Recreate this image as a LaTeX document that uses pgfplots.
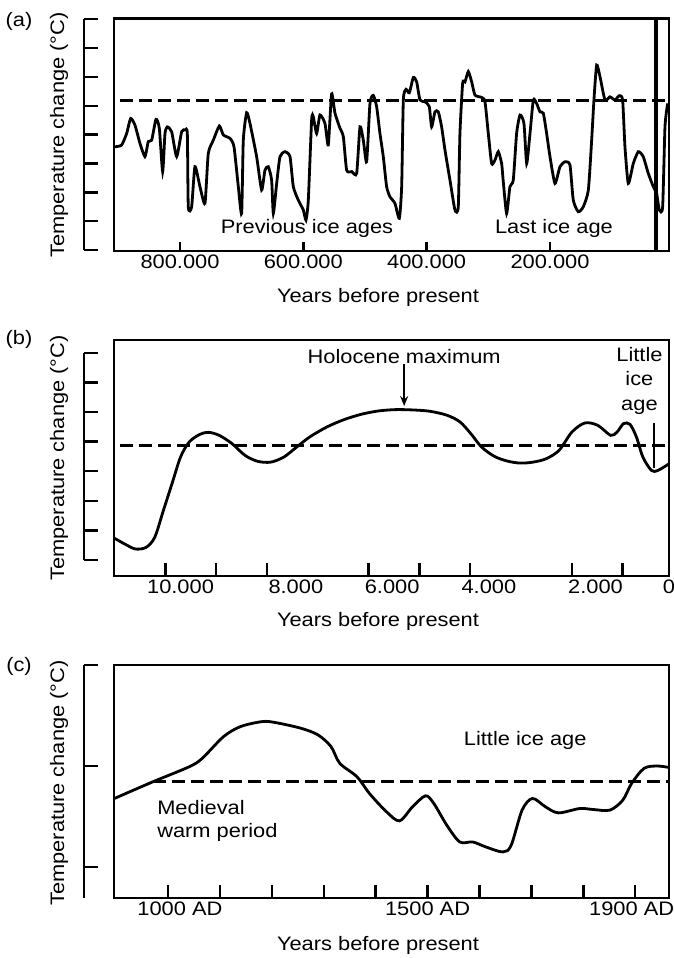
\documentclass[border=0pt]{standalone}
\usepackage{pgfplots}
\pgfplotsset{compat=1.18}
\usepackage{fontspec}
\setmainfont{Liberation Sans}[FakeStretch=1.12]
\usetikzlibrary{arrows.meta}

\newcommand{\figfont}{\fontsize{19.5}{23}\selectfont}

\pgfplotsset{
  panel/.style={
    scale only axis, anchor=south west, width=555pt,
    axis line style={line width=2.6pt},
    tick style={line width=2.4pt, black},
    tick align=inside, xtick pos=left,
    ytick=\empty, scaled x ticks=false,
    tick label style={font=\figfont},
    every node/.append style={font=\figfont},
  },
  yhelper/.style={
    scale only axis, anchor=south west, width=14pt,
    axis x line=none, axis y line=left,
    axis line style={-, line width=2.6pt},
    tick style={line width=2.4pt, black},
    tick align=inside, major tick length=14pt,
    yticklabels={}, xmin=0, xmax=1,
  },
  tempcurve/.style={black, line width=2.8pt, smooth, no markers},
  refline/.style={black, line width=2.6pt, dash pattern=on 13pt off 6pt, no markers},
}

\begin{document}
\begin{tikzpicture}[font=\figfont]
\useasboundingbox (0,0) rectangle (673pt,-958pt);

% ---------------- (a) ----------------
\begin{axis}[yhelper, at={(84pt,-250pt)}, height=230.8pt, ymin=0, ymax=8, ytick={0,...,8}]
\end{axis}
\begin{axis}[panel, at={(114pt,-251pt)}, height=232.7pt,
    x dir=reverse, xmin=7, xmax=907, ymin=-0.03, ymax=8.03,
    major tick length=9pt,
    xtick={200,400,600,800},
    xticklabels={200.000,400.000,600.000,800.000}]
\addplot[refline] coordinates {(897,5.18) (7,5.18)};
\addplot[black, line width=3.2pt, no markers] coordinates {(28,-0.03) (28,8.03)};
\addplot[tempcurve, tension=0.35] coordinates {
(905.4,3.58)(894.6,3.64)(886.5,4.04)(880,4.56)(873,4.33)(864.9,3.70)(856.8,3.24)
(851.4,3.76)(845.9,3.81)(838.9,4.53)(833.5,4.22)(828.1,2.72)(824.3,4.04)(820.5,4.27)
(813.5,4.10)(805.4,3.24)(797.3,4.10)(791.9,4.16)(788.1,4.04)(786.5,1.50)(781.1,1.50)
(775.7,2.89)(767.6,2.20)(759.5,1.62)(754.1,3.35)(745.9,3.81)(736.2,4.30)(729.7,3.99)
(718.9,3.87)(712.4,3.58)(705.4,2.20)(700,1.27)(697.3,3.81)(691.9,4.76)(686.5,4.39)
(675.7,3.24)(667.6,2.08)(662.2,2.77)(656.8,2.89)(651.4,2.43)(648.6,1.27)(643.2,2.31)
(637.8,3.24)(629.7,3.41)(621.6,3.24)(616.2,2.20)(608.1,1.73)(600,1.39)(595.7,1.04)
(591.9,1.73)(586.5,4.51)(583.8,4.62)(578.4,4.04)(573,4.68)(564.9,4.39)(559.5,3.64)
(554.1,5.41)(548.6,4.74)(540.5,4.22)(535.1,3.93)(529.7,2.77)(521.6,2.72)(513.5,2.66)
(508.1,4.27)(502.7,3.81)(497.3,3.06)(491.9,5.08)(486.5,5.36)(481.1,4.97)(475.7,4.04)
(470.3,3.24)(464.9,2.20)(459.5,1.85)(451.4,1.62)(444.3,1.10)(440.5,2.20)(437.8,5.20)
(433.5,5.57)(428.1,5.45)(421.6,5.98)(416.2,5.83)(410.8,5.20)(402.7,5.14)(395.7,4.97)
(391.9,4.27)(386.5,4.79)(381.1,4.79)(375.7,4.27)(370.3,3.47)(362.2,2.43)(354.1,1.39)
(348.7,1.50)(346,4.04)(341.6,5.78)(337.8,5.83)(332.4,6.18)(327,5.83)(321.6,5.37)
(310.8,5.29)(305.4,5.14)(300,4.04)(294.6,3.00)(289.2,3.12)(283.8,3.41)(278.4,3.00)
(275.7,2.37)(270.3,1.27)(264.9,2.20)(259.5,2.43)(254.1,4.04)(248.6,4.68)(242.2,4.39)
(237.8,3.00)(232.4,4.04)(227,5.20)(221.6,5.08)(216.2,4.79)(210.8,4.74)(205.4,4.04)
(200,3.24)(191.9,2.31)(183.8,2.89)(175.7,3.06)(167.6,2.95)(162.2,1.73)(154.1,1.33)
(146,1.50)(137.8,2.08)(132.4,3.81)(128.7,5.20)(124.3,6.41)(118.9,6.01)(110.8,5.20)
(102.7,5.31)(94.6,5.20)(87.6,5.35)(82.2,5.20)(78.4,3.58)(73,2.31)(64.9,3.00)
(56.8,3.41)(48.8,3.24)(40.6,2.66)(32.5,2.20)(27,1.96)(22.7,1.39)(17.3,1.50)
(13.5,4.27)(9.2,5.08)
};
\node at (axis cs:594,0.76) {Previous ice ages};
\node at (axis cs:193.5,0.76) {Last ice age};
\end{axis}

% ---------------- (b) ----------------
\begin{axis}[yhelper, at={(84pt,-560pt)}, height=207.2pt, ymin=0, ymax=7, ytick={0,...,7}]
\end{axis}
\begin{axis}[panel, at={(114pt,-576pt)}, height=236pt,
    x dir=reverse, xmin=87, xmax=11014, ymin=-0.54, ymax=7.43,
    major tick length=13pt,
    xtick={1000,2000,4000,5000,6000,8000,9000,10000}, xticklabels={},
    extra x ticks={87,1533,3633,5538,7434,9704},
    extra x tick labels={0,2.000,4.000,6.000,8.000,10.000},
    extra x tick style={major tick length=0pt}]
\addplot[refline] coordinates {(10890,3.87) (87,3.87)};
\addplot[tempcurve] coordinates {
(11014,0.745)(10804,0.542)(10593,0.372)(10381,0.429)(10212,0.767)(10042,1.670)
(9873,2.573)(9704,3.476)(9534,3.984)(9323,4.244)(9153,4.312)(8942,4.210)(8688,3.928)
(8434,3.533)(8180,3.330)(7925,3.307)(7671,3.476)(7417,3.815)(7163,4.153)(6824,4.492)
(6486,4.740)(6147,4.921)(5808,5.034)(5470,5.079)(5131,5.068)(4793,5.023)(4454,4.887)
(4200,4.661)(3988,4.266)(3777,3.815)(3523,3.499)(3269,3.341)(3015,3.273)(2760,3.307)
(2506,3.420)(2252,3.702)(1998,4.323)(1744,4.628)(1490,4.549)(1236,4.210)(1109,4.323)
(982,4.605)(855,4.582)(728,4.153)(601,3.476)(432,3.025)(305,3.025)(87,3.25)
};
\node at (axis cs:5301,6.87) {Holocene maximum};
\draw[line width=1.6pt, -{Stealth[length=10pt,width=8pt]}] (axis cs:5301,6.62) -- (axis cs:5301,5.20);
\node[align=center, font=\fontsize{19.5}{24.5}\selectfont] at (axis cs:669,6.05) {Little\\ice\\age};
\draw[line width=2pt] (axis cs:389,4.63) -- (axis cs:389,3.11);
\end{axis}

% ---------------- (c) ----------------
\begin{axis}[yhelper, at={(84pt,-898pt)}, height=233pt, ymin=-0.307, ymax=2.0, ytick={0,1,2}]
\end{axis}
\begin{axis}[panel, at={(114pt,-898pt)}, height=233pt,
    xmin=896, xmax=1965, ymin=-0.307, ymax=2.0,
    major tick length=13pt,
    xtick={1000,1100,...,1900}, xticklabels={},
    extra x ticks={1023,1500,1893},
    extra x tick labels={1000 AD,1500 AD,1900 AD},
    extra x tick style={major tick length=0pt}]
\addplot[refline] coordinates {(971,0.844) (1965,0.844)};
\addplot[tempcurve] coordinates {
(897,0.679)(971,0.844)(1041,0.993)(1066,1.076)(1107,1.291)(1140,1.391)(1182,1.440)
(1207,1.430)(1256,1.374)(1289,1.308)(1314,1.192)(1331,1.026)(1364,0.894)(1388,0.728)
(1421,0.546)(1446,0.457)(1471,0.596)(1496,0.705)(1512,0.629)(1537,0.414)(1562,0.248)
(1587,0.248)(1612,0.199)(1645,0.149)(1661,0.215)(1682,0.563)(1702,0.679)(1727,0.596)
(1752,0.536)(1793,0.579)(1818,0.570)(1851,0.563)(1876,0.662)(1893,0.828)(1917,0.977)
(1942,1.0)(1963,0.987)
};
\node at (axis cs:1688,1.257) {Little ice age};
\node[anchor=west, align=left, inner sep=0pt] at (axis cs:979,0.46) {Medieval\\warm period};
\end{axis}

% ---------------- labels ----------------
\foreach \yc in {135,458,783}
  \node[rotate=90] at (59pt,-\yc pt) {Temperature change (°C)};
\foreach \yc in {297,621.7,945}
  \node at (378pt,-\yc pt) {Years before present};
\node at (19pt,-21pt) {(a)};
\node at (19pt,-339.5pt) {(b)};
\node at (19pt,-666pt) {(c)};
\end{tikzpicture}
\end{document}
